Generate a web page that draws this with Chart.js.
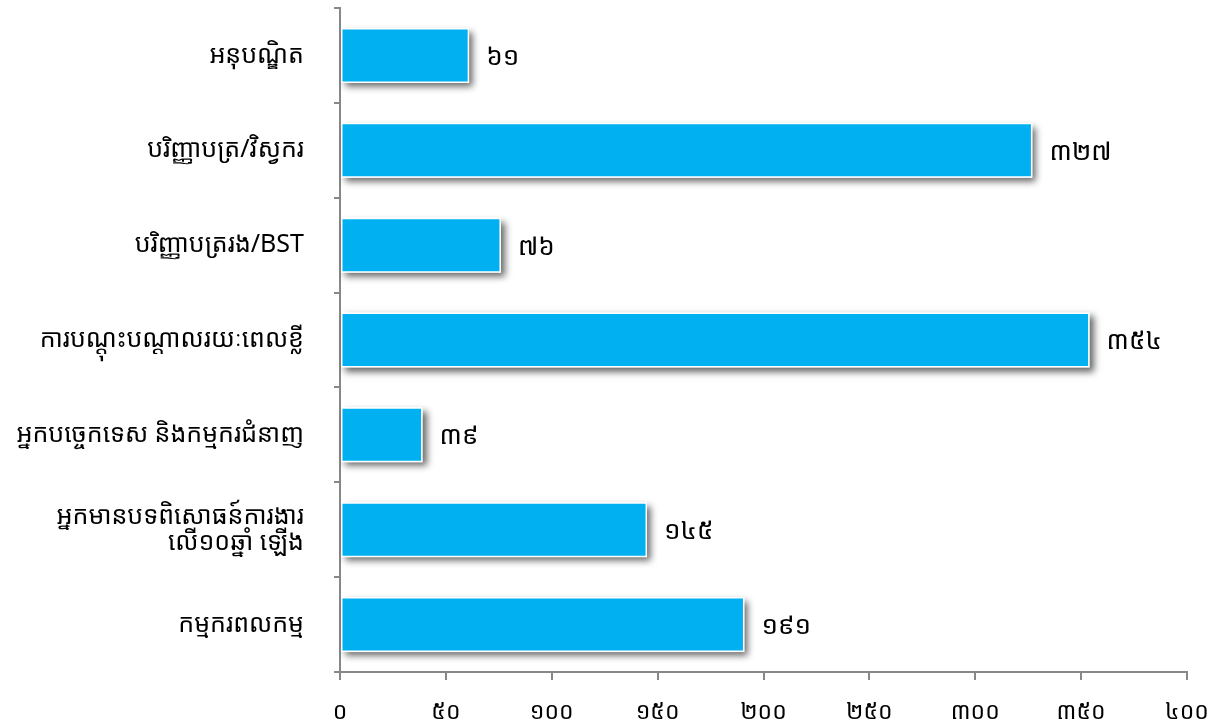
<!DOCTYPE html>
<html>
<head>
<meta charset="utf-8">
<script src="https://cdn.jsdelivr.net/npm/chart.js@4.4.1/dist/chart.umd.min.js"></script>
<style>
html,body{margin:0;padding:0;background:#fff;}
#wrap{width:1225px;height:728px;}
</style>
</head>
<body>
<div id="wrap"><canvas id="c" width="1225" height="728"></canvas></div>
<script>
const categories = [
  "អនុបណ្ឌិត",
  "បរិញ្ញាបត្រ/វិស្វករ",
  "បរិញ្ញាបត្ររង/BST",
  "ការបណ្ដុះបណ្ដាលរយៈពេលខ្លី",
  "អ្នកបច្ចេកទេស និងកម្មករជំនាញ",
  ["អ្នកមានបទពិសោធន៍ការងារ", "លើ១០ឆ្នាំ ឡើង"],
  "កម្មករពលកម្ម"
];
const values = [61, 327, 76, 354, 39, 145, 191];
const xTicks = [0, 50, 100, 150, 200, 250, 300, 350, 400];

const khDigits = ['០','១','២','៣','៤','៥','៦','៧','៨','៩'];
function toKhmer(n){ return String(n).replace(/[0-9]/g, d => khDigits[+d]); }

const FONT = "'Noto Sans Khmer','Khmer OS','Noto Sans','DejaVu Sans',sans-serif";

// soft drop shadow drawn behind each bar
const shadowPlugin = {
  id: 'shadow',
  beforeDatasetsDraw(chart){
    const ctx = chart.ctx;
    const meta = chart.getDatasetMeta(0);
    ctx.save();
    ctx.shadowColor = 'rgba(0,0,0,0.6)';
    ctx.shadowBlur = 7;
    ctx.shadowOffsetX = 4;
    ctx.shadowOffsetY = 4;
    ctx.fillStyle = '#ffffff';
    meta.data.forEach(bar => {
      const p = bar.getProps(['x','y','base','height'], true);
      const left = Math.min(p.x, p.base), right = Math.max(p.x, p.base);
      ctx.fillRect(left, p.y - p.height/2, right - left, p.height);
    });
    ctx.restore();
  }
};

const labelPlugin = {
  id: 'valLabels',
  afterDatasetsDraw(chart){
    const ctx = chart.ctx;
    const meta = chart.getDatasetMeta(0);
    ctx.save();
    ctx.font = "26px " + FONT;
    ctx.fillStyle = '#000';
    ctx.textAlign = 'left';
    ctx.textBaseline = 'middle';
    meta.data.forEach((bar, i) => {
      ctx.fillText(toKhmer(values[i]), bar.x + 17, bar.y + 2);
    });
    ctx.restore();
  }
};

new Chart(document.getElementById('c'), {
  type: 'bar',
  data: {
    labels: categories,
    datasets: [{
      data: values,
      backgroundColor: '#00B0F0',
      borderColor: '#ffffff',
      borderWidth: 1.5,
      borderSkipped: false,
      categoryPercentage: 1,
      barPercentage: 0.58
    }]
  },
  options: {
    indexAxis: 'y',
    responsive: false,
    animation: false,
    layout: { padding: { top: 8, right: 38, left: 0, bottom: 0 } },
    plugins: { legend: { display: false }, tooltip: { enabled: false } },
    scales: {
      x: {
        min: 0, max: 400,
        afterBuildTicks(scale){ scale.ticks = xTicks.map(v => ({ value: v })); },
        afterFit(scale){ scale.height = 56; scale.paddingLeft = 0; scale.paddingRight = 0; },
        grid: { drawOnChartArea: false, drawTicks: true, tickLength: 8, color: '#888', lineWidth: 2 },
        border: { display: true, color: '#888', width: 2 },
        ticks: {
          padding: 19,
          color: '#000',
          font: { size: 23, family: FONT },
          callback: v => toKhmer(v),
          maxRotation: 0
        }
      },
      y: {
        afterFit(scale){ scale.width = 340; scale.paddingTop = 0; scale.paddingBottom = 0; },
        grid: { drawOnChartArea: false, drawTicks: true, tickLength: 6, color: '#888', lineWidth: 2, offset: true },
        border: { display: true, color: '#888', width: 2 },
        ticks: {
          padding: 30,
          color: '#000',
          font: { size: 25, family: FONT, lineHeight: 1.05 },
          autoSkip: false
        }
      }
    }
  },
  plugins: [shadowPlugin, labelPlugin]
});
</script>
</body>
</html>
